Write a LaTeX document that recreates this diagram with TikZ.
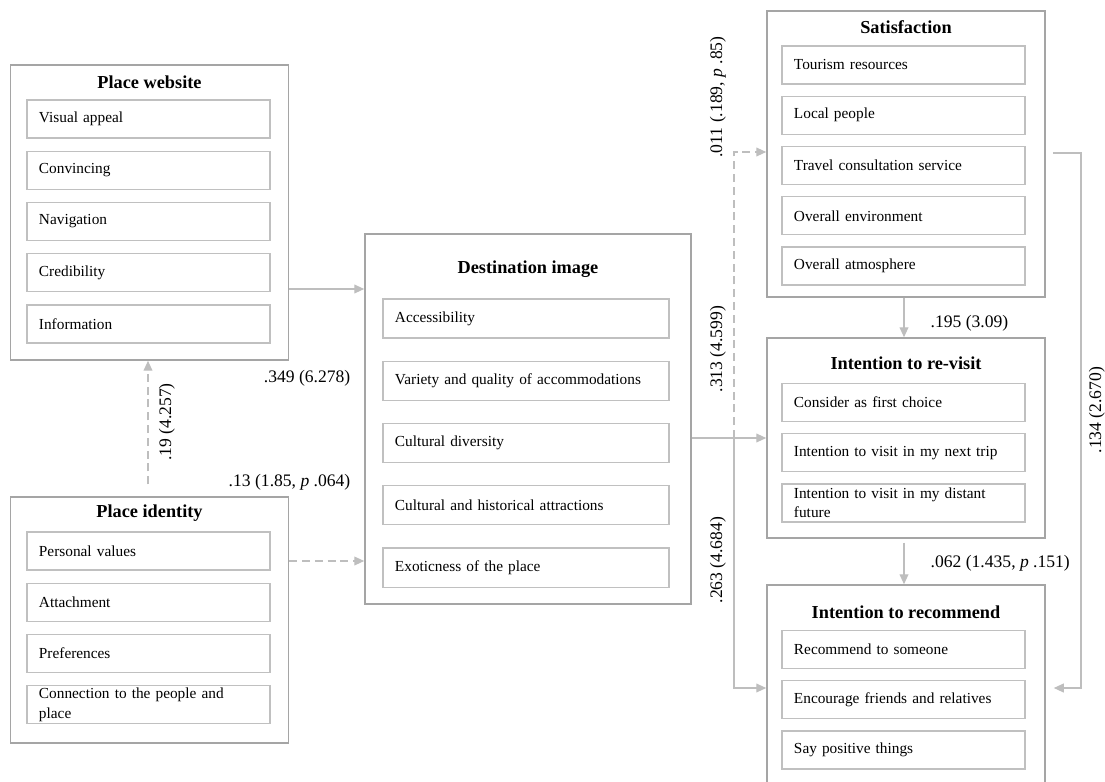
\documentclass[tikz,border=0pt]{standalone}
\usepackage{fontspec}
\setmainfont{Liberation Serif}
\usetikzlibrary{arrows.meta, positioning}
\definecolor{boxgray}{RGB}{165,165,165}
\definecolor{itemgray}{RGB}{192,192,192}
\definecolor{linegray}{RGB}{190,190,190}

\begin{document}
\begin{tikzpicture}[
        x=0.025cm, y=-0.025cm, % one unit = one pixel of the layout
        node distance=0.3cm, % gap between item boxes
        grp/.style={draw=boxgray, line width=1pt, minimum width=6.95cm, inner sep=0pt},
        ttl/.style={font=\bfseries\fontsize{13}{15}\selectfont},
        itm/.style={draw=itemgray, line width=0.9pt, text width=5.475cm, minimum height=0.95cm,
                    inner xsep=0.3cm, inner ysep=0.5pt, align=left, font=\fontsize{10.9}{13.6}\selectfont},
        ditm/.style={itm, text width=6.55cm, minimum height=0.975cm},
        lbl/.style={font=\fontsize{12.5}{15}\selectfont, inner sep=1pt},
        arr/.style={draw=linegray, line width=1pt, -{Triangle[length=0.25cm, width=0.22cm]}}, % arrow style
        dsh/.style={arr, dash pattern=on 0.2cm off 0.12cm}
      ]
      \useasboundingbox (0,0) rectangle (1105,782);

      % Outer boxes
      \node (PW) [grp, minimum height=7.375cm] at (149.5,212.5) {};
      \node (PI) [grp, minimum height=6.15cm] at (149.5,620) {};
      \node (DI) [grp, minimum width=8.15cm, minimum height=9.25cm] at (528,419) {};
      \node (S)  [grp, minimum height=7.15cm] at (906,154) {};
      \node (IR) [grp, minimum height=5cm] at (906,438) {};
      \node (IC) [grp, minimum height=5.15cm] at (906,688) {};

      % Titles
      \node (PWt) [ttl] at (149.5,82) {Place website};
      \node (PIt) [ttl] at (149.5,513) {Place identity};
      \node (DIt) [ttl] at (528,269) {Destination image};
      \node (St)  [ttl] at (906,27) {Satisfaction};
      \node (IRt) [ttl] at (906,363) {Intention to re-visit};
      \node (ICt) [ttl] at (906,612) {Intention to recommend};

      % Place website items
      \node (pw1) [itm] at (148.5,119) {Visual appeal};
      \node (pw2) [itm, below=of pw1] {Convincing};
      \node (pw3) [itm, below=of pw2] {Navigation};
      \node (pw4) [itm, below=of pw3] {Credibility};
      \node (pw5) [itm, below=of pw4] {Information};

      % Place identity items
      \node (pi1) [itm] at (148.5,551) {Personal values};
      \node (pi2) [itm, below=of pi1] {Attachment};
      \node (pi3) [itm, below=of pi2] {Preferences};
      \node (pi4) [itm, below=of pi3] {Connection to the people and\\place};

      % Destination image items
      \node (di1) [ditm] at (526,318.5) {Accessibility};
      \node (di2) [ditm, below=0.55cm of di1] {Variety and quality of accommodations};
      \node (di3) [ditm, below=0.55cm of di2] {Cultural diversity};
      \node (di4) [ditm, below=0.55cm of di3] {Cultural and historical attractions};
      \node (di5) [ditm, below=0.55cm of di4] {Exoticness of the place};

      % Satisfaction items
      \node (s1) [itm] at (903.5,65) {Tourism resources};
      \node (s2) [itm, below=0.275cm of s1] {Local people};
      \node (s3) [itm, below=0.275cm of s2] {Travel consultation service};
      \node (s4) [itm, below=0.275cm of s3] {Overall environment};
      \node (s5) [itm, below=0.275cm of s4] {Overall atmosphere};

      % Intention to re-visit items
      \node (ir1) [itm] at (903.5,402.5) {Consider as first choice};
      \node (ir2) [itm, below=0.275cm of ir1] {Intention to visit in my next trip};
      \node (ir3) [itm, below=0.275cm of ir2] {Intention to visit in my distant\\future};

      % Intention to recommend items
      \node (ic1) [itm] at (903.5,649.5) {Recommend to someone};
      \node (ic2) [itm, below=0.275cm of ic1] {Encourage friends and relatives};
      \node (ic3) [itm, below=0.275cm of ic2] {Say positive things};

      % Arrows
      \coordinate (jn) at (734,438);
      \coordinate (rt) at (1081,153);
      \draw[arr] (PW.east |- 0,289) -- (DI.west |- 0,289);
      \draw[dsh] (PI.east |- 0,561) -- (DI.west |- 0,561);
      \draw[dsh, shorten <=0.3cm] (PI.north -| 148,0) -- (PW.south -| 148,0);
      \draw[arr] (DI.east |- jn) -- (IR.west |- jn);
      \draw[dsh] (jn) |- (S.west |- 0,152);
      \draw[arr] (jn) |- (IC.west);
      \draw[arr] (S.south -| 904,0) -- (IR.north -| 904,0);
      \draw[arr, shorten <=0.1cm] (IR.south -| 904,0) -- (IC.north -| 904,0);
      \draw[arr, shorten <=0.18cm, shorten >=0.2cm] (S.east |- rt) -- (rt) |- (IC.east);

      % Labels
      \node (l349) [lbl, anchor=east] at (352,378) {.349 (6.278)};
      \node (l13)  [lbl, anchor=east] at (352,482) {.13 (1.85, \textit{p} .064)};
      \node (l19)  [lbl, rotate=90] at (167,422) {.19 (4.257)};
      \node (l011) [lbl, rotate=90] at (718,97) {.011 (.189, \textit{p} .85)};
      \node (l313) [lbl, rotate=90] at (718,349) {.313 (4.599)};
      \node (l263) [lbl, rotate=90] at (718,560) {.263 (4.684)};
      \node (l195) [lbl, anchor=west] at (929,323) {.195 (3.09)};
      \node (l062) [lbl, anchor=west] at (929,563) {.062 (1.435, \textit{p} .151)};
      \node (l134) [lbl, rotate=90] at (1097,410) {.134 (2.670)};

    \end{tikzpicture}
\end{document}
